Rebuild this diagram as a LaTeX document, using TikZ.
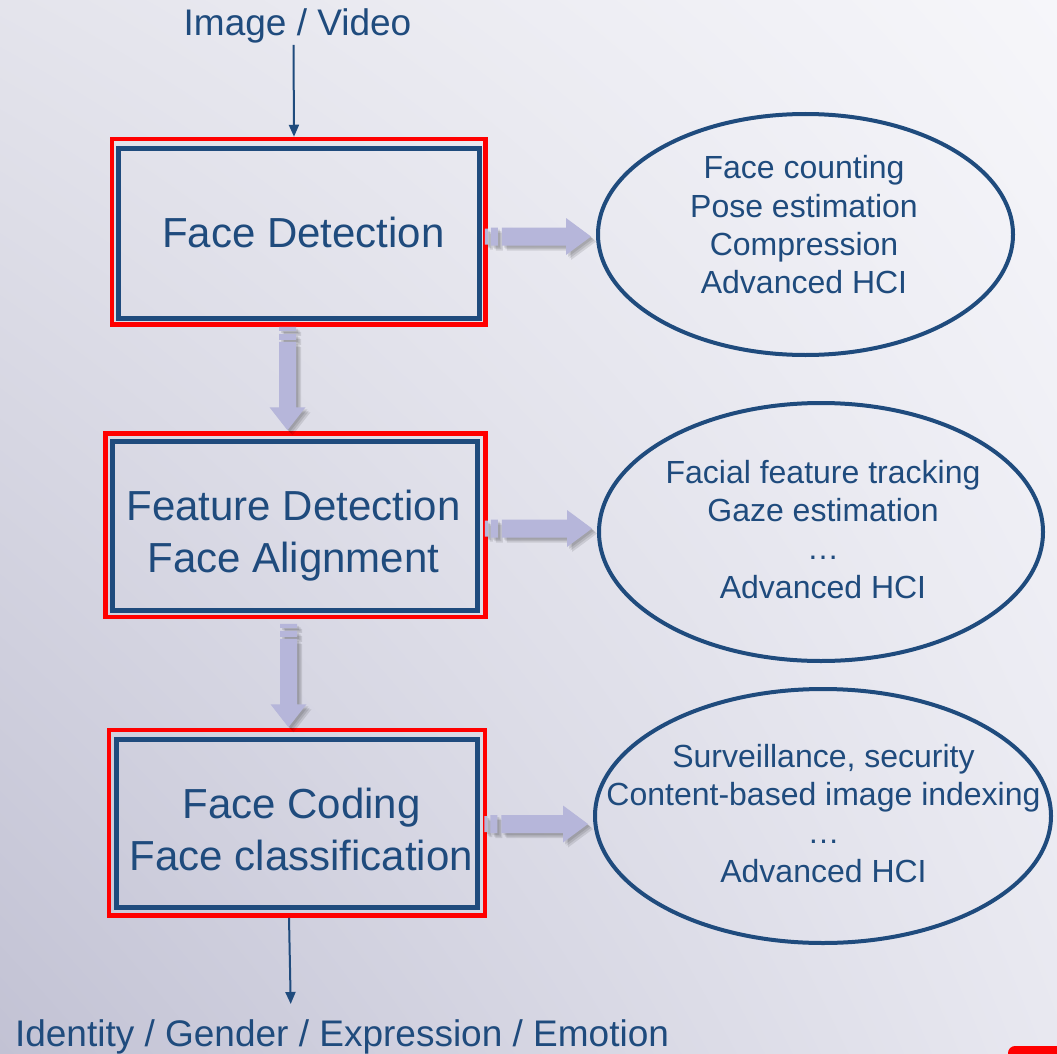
\documentclass[tikz,border=0pt]{standalone}
\usepackage{fontspec}
\setmainfont{Liberation Sans}
\usetikzlibrary{arrows.meta,calc,shapes.geometric,shadings}
\definecolor{fblue}{RGB}{31,75,125}
\definecolor{lav}{RGB}{182,182,218}
\definecolor{bgUL}{RGB}{228,228,236}
\definecolor{bgUR}{RGB}{246,246,250}
\definecolor{bgLL}{RGB}{194,194,212}
\definecolor{bgLR}{RGB}{232,232,240}
\tikzset{
  blueframe/.style={draw=fblue,line width=5pt,inner sep=0pt},
  redframe/.style={draw=red,line width=4.5pt,inner sep=0pt},
  oval/.style={ellipse,draw=fblue,line width=4pt,inner sep=0pt},
  bigtext/.style={text=fblue,font=\fontsize{42}{52}\selectfont,align=center,inner sep=0pt},
  smalltext/.style={text=fblue,font=\fontsize{32}{38.3}\selectfont,align=center,inner sep=0pt},
  iotext/.style={text=fblue,font=\fontsize{37}{44}\selectfont,inner sep=1pt},
  flowline/.style={draw=fblue,line width=2pt,-{Triangle[length=12pt,width=10pt]}},
  shad/.style={fill=black,opacity=0.10},
}
\newcommand\rightpath[2]{let \p1=(#1), \p2=(#2) in
  (\x1,\y1-8pt) rectangle (\x1+3pt,\y1+8pt)
  (\x1+6pt,\y1-9pt) rectangle (\x1+13pt,\y1+9pt)
  (\x1+17pt,\y1-9pt) -- (\x2-25pt,\y1-9pt) -- (\x2-25pt,\y1-18.5pt) -- (\x2,\y1)
  -- (\x2-25pt,\y1+18.5pt) -- (\x2-25pt,\y1+9pt) -- (\x1+17pt,\y1+9pt) -- cycle}
\newcommand\downpath[2]{let \p1=(#1), \p2=(#2) in
  (\x1-8.5pt,\y1) rectangle (\x1+8.5pt,\y1-4pt)
  (\x1-8.5pt,\y1-7pt) rectangle (\x1+8.5pt,\y1-13pt)
  (\x1-8.5pt,\y1-15pt) -- (\x1+8.5pt,\y1-15pt) -- (\x1+8.5pt,\y2+23pt) -- (\x1+18pt,\y2+23pt)
  -- (\x1,\y2) -- (\x1-18pt,\y2+23pt) -- (\x1-8.5pt,\y2+23pt) -- cycle}
\newcommand\rightblock[2]{%
  \foreach \s in {2,3.5,5}{\fill[shad,transform canvas={shift={(\s pt,-\s pt)}}] \rightpath{#1}{#2};}
  \fill[lav] \rightpath{#1}{#2};}
\newcommand\downblock[2]{%
  \foreach \s in {2,3.5,5}{\fill[shad,transform canvas={shift={(\s pt,-\s pt)}}] \downpath{#1}{#2};}
  \fill[lav] \downpath{#1}{#2};}
\begin{document}
\begin{tikzpicture}[x=1pt,y=-1pt]
\useasboundingbox (0,0) rectangle (1057,1054);
\clip (0,0) rectangle (1057,1054);
\shade[upper left=bgUL, upper right=bgUR, lower left=bgLL, lower right=bgLR] (0,0) rectangle (1057,1054);
\fill[red, rounded corners=7pt] (1008,1046) rectangle (1080,1080);

% boxes
\node[redframe, minimum width=373.5pt, minimum height=185.5pt] (fdr) at (298.75,231.75) {};
\node[blueframe, minimum width=361pt, minimum height=170pt] (fd) at (299,233) {};
\node[bigtext, anchor=base] (fdt) at (303.5,247) {Face Detection};

\node[redframe, minimum width=380pt, minimum height=183.5pt] (far) at (295.5,525.25) {};
\node[blueframe, minimum width=365pt, minimum height=169.5pt] (fa) at (294.5,525.75) {};
\node[bigtext] (fat) at (293.5,535.3) {Feature Detection\\Face Alignment};

\node[redframe, minimum width=376pt, minimum height=185.5pt] (fcr) at (297,822.75) {};
\node[blueframe, minimum width=361.5pt, minimum height=168.5pt] (fc) at (296.75,823.25) {};
\node[bigtext] (fct) at (301.5,829.1) {Face Coding\\Face classification};

% ellipses
\node[oval, minimum width=415pt, minimum height=241pt] (e1) at (805.5,234.5) {};
\node[smalltext] (e1t) at (804,224.9) {Face counting\\Pose estimation\\Compression\\Advanced HCI};
\node[oval, minimum width=444pt, minimum height=258pt] (e2) at (821,532) {};
\node[smalltext] (e2t) at (823,529.2) {Facial feature tracking\\Gaze estimation\\…\\Advanced HCI};
\node[oval, minimum width=456pt, minimum height=254pt] (e3) at (823,816) {};
\node[smalltext] (e3t) at (823.5,813.2) {Surveillance, security\\Content-based image indexing\\…\\Advanced HCI};

% input / output
\node[iotext, anchor=base] (src) at (297.5,36) {Image / Video};
\node[iotext, anchor=base] (dst) at (342,1046) {Identity / Gender / Expression / Emotion};
\draw[flowline] (src.south -| 293.5,0) -- (fdr.north -| 294,0);
\draw[flowline, shorten >=14pt] (fcr.south -| 289,0) -- (dst.north -| 291,0);

% block arrows
\coordinate (d1s) at (fdr.south -| 287.5,0);
\coordinate (d1t) at ($(far.north -| 287.5,0)+(0,-1)$);
\coordinate (d2s) at ($(far.south -| 288.5,0)+(0,4.5)$);
\coordinate (d2t) at ($(fcr.north -| 288.5,0)+(0,-0.5)$);
\downblock{d1s}{d1t}
\downblock{d2s}{d2t}

\coordinate (r1s) at ($(fdr.east |- 0,236.5)+(-3,0)$);
\coordinate (r1t) at ($(e1.west |- 0,236.5)+(-5,0)$);
\coordinate (r2s) at ($(far.east |- 0,528.5)+(-3,0)$);
\coordinate (r2t) at ($(e2.west |- 0,528.5)+(-5,0)$);
\coordinate (r3s) at ($(fcr.east |- 0,824)+(-3,0)$);
\coordinate (r3t) at ($(e3.west |- 0,824)+(-5,0)$);
\rightblock{r1s}{r1t}
\rightblock{r2s}{r2t}
\rightblock{r3s}{r3t}
\end{tikzpicture}
\end{document}
